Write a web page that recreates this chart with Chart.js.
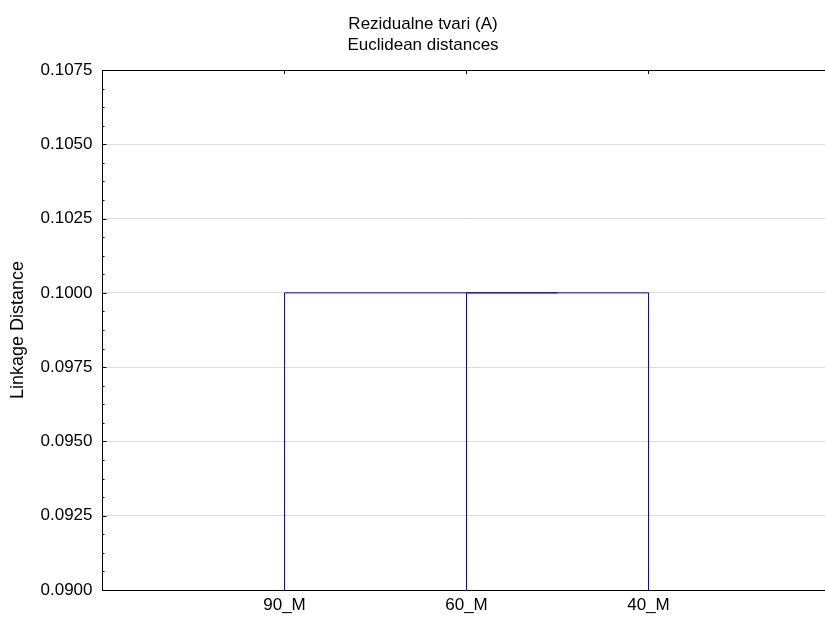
<!DOCTYPE html>
<html>
<head>
<meta charset="utf-8">
<script src="https://cdn.jsdelivr.net/npm/chart.js@4.4.1/dist/chart.umd.min.js"></script>
<style>
  html, body { margin: 0; padding: 0; background: #ffffff; overflow: hidden; }
  #wrap { position: relative; width: 840px; height: 619px; }
</style>
</head>
<body>
<div id="wrap"><canvas id="c"></canvas></div>
<script>
// ---- Data ----
const titleLines = ['Rezidualne tvari (A)', 'Euclidean distances'];
const yAxisTitle = 'Linkage Distance';
const categories = ['90_M', '60_M', '40_M'];          // leaf order along the x axis
// merges: indices 0..2 are leaves, 3.. are clusters created by earlier merges
const mergeLeft = [1, 0];
const mergeRight = [2, 3];
const mergeHeights = [0.1000, 0.1000];
const yMin = 0.0900, yMax = 0.1075, yStep = 0.0025;

// ---- Build dendrogram segments from the merge table ----
const nodeX = categories.map((_, i) => i + 1);
const nodeH = categories.map(() => yMin);
const datasets = [];
mergeLeft.forEach((a, k) => {
  const b = mergeRight[k], h = mergeHeights[k];
  datasets.push({
    data: [
      { x: nodeX[a], y: nodeH[a] },
      { x: nodeX[a], y: h },
      { x: nodeX[b], y: h },
      { x: nodeX[b], y: nodeH[b] }
    ],
    borderColor: '#0000ff',
    backgroundColor: '#0000ff',
    borderWidth: 1,
    pointRadius: 0,
    showLine: true,
    tension: 0,
    fill: false
  });
  nodeX.push((nodeX[a] + nodeX[b]) / 2);
  nodeH.push(h);
});

const FONT = 'Liberation Sans, Arial, sans-serif';

const framePlugin = {
  id: 'frame',
  afterDraw(chart) {
    const { ctx, chartArea: ca, scales } = chart;
    const x = scales.x, y = scales.y;
    ctx.save();
    ctx.strokeStyle = '#000000';
    ctx.lineWidth = 1;
    const left = Math.floor(ca.left) + 0.5;
    // top border
    ctx.beginPath();
    ctx.moveTo(left, Math.round(ca.top) + 0.5);
    ctx.lineTo(ca.right, Math.round(ca.top) + 0.5);
    ctx.stroke();
    // top ticks at category positions (inward)
    for (let i = 0; i < categories.length; i++) {
      const px = Math.floor(x.getPixelForValue(i + 1)) + 0.5;
      ctx.beginPath();
      ctx.moveTo(px, ca.top);
      ctx.lineTo(px, ca.top + 4);
      ctx.stroke();
    }
    // left axis inner ticks: major + minor
    const n = Math.round((yMax - yMin) / yStep);
    for (let i = 0; i <= n * 4; i++) {
      const v = yMin + i * yStep / 4;
      const py = Math.round(y.getPixelForValue(v)) + 0.5;
      const len = (i % 4 === 0) ? 4 : 2;
      ctx.beginPath();
      ctx.moveTo(left, py);
      ctx.lineTo(left + len, py);
      ctx.stroke();
    }
    // titles
    ctx.fillStyle = '#000000';
    ctx.font = '17px ' + FONT;
    ctx.textAlign = 'center';
    ctx.textBaseline = 'alphabetic';
    ctx.fillText(titleLines[0], 423, 29);
    ctx.fillText(titleLines[1], 423, 50);
    ctx.restore();
  }
};

new Chart(document.getElementById('c'), {
  type: 'scatter',
  data: { datasets },
  plugins: [framePlugin],
  options: {
    responsive: true,
    maintainAspectRatio: false,
    animation: false,
    layout: { padding: { top: 70, right: 9.5, left: 0.5, bottom: 0 } },
    plugins: { legend: { display: false }, tooltip: { enabled: false }, title: { display: false } },
    scales: {
      x: {
        type: 'linear',
        position: 'bottom',
        min: 0,
        max: categories.length + 1,
        afterBuildTicks(scale) { scale.ticks = categories.map((c, i) => ({ value: i + 1 })); },
        afterFit(scale) { scale.height = 29; },
        ticks: {
          color: '#000000',
          font: { family: FONT, size: 17 },
          padding: 5,
          maxRotation: 0,
          autoSkip: false,
          callback: (v) => categories[v - 1] || ''
        },
        grid: { display: false, drawTicks: false },
        border: { display: true, color: '#000000', width: 1 }
      },
      y: {
        type: 'linear',
        min: yMin,
        max: yMax,
        afterBuildTicks(scale) {
          const t = [];
          const n = Math.round((yMax - yMin) / yStep);
          for (let i = 0; i <= n; i++) t.push({ value: +(yMin + i * yStep).toFixed(4) });
          scale.ticks = t;
        },
        afterFit(scale) { scale.width = 102; },
        ticks: {
          color: '#000000',
          font: { family: FONT, size: 17 },
          padding: 10,
          callback: (v) => Number(v).toFixed(4)
        },
        grid: { color: '#dcdcdc', lineWidth: 1, drawTicks: false },
        border: { display: true, color: '#000000', width: 1 },
        title: {
          display: true,
          text: yAxisTitle,
          color: '#000000',
          font: { family: FONT, size: 18 },
          padding: { top: 7, bottom: 0 }
        }
      }
    }
  }
});
</script>
</body>
</html>
